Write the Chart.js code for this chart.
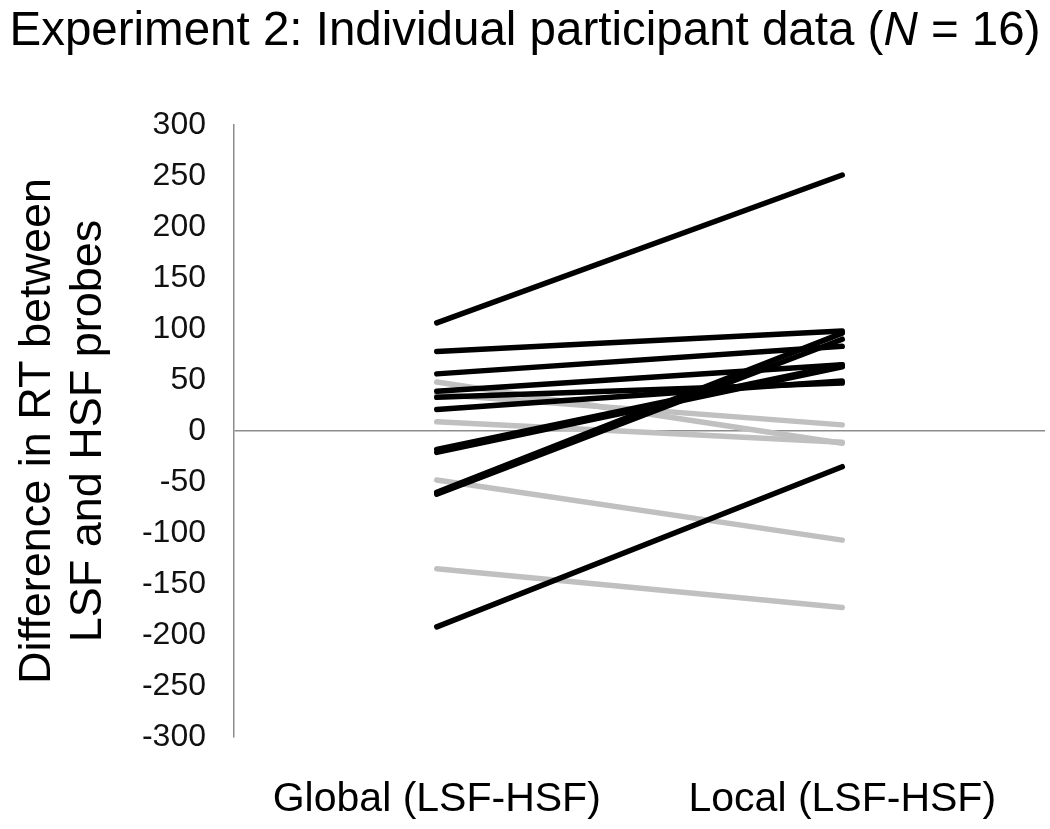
<!DOCTYPE html>
<html>
<head>
<meta charset="utf-8">
<script src="https://cdn.jsdelivr.net/npm/chart.js@4.4.1/dist/chart.umd.min.js"></script>
<style>
  html, body { margin: 0; padding: 0; background: #fff; }
  #wrap { position: relative; width: 1050px; height: 829px; }
  #title {
    position: absolute; top: 5px; left: 0; width: 1050px; margin: 0;
    text-align: center; font-family: "Liberation Sans", Arial, sans-serif;
    font-size: 47.5px; font-weight: normal; line-height: 47px; color: #000;
    white-space: nowrap; z-index: 2;
  }
  #chart { position: absolute; top: 0; left: 0; }
</style>
</head>
<body>
<div id="wrap">
  <h1 id="title">Experiment 2: Individual participant data (<i>N</i> = 16)</h1>
  <canvas id="chart" width="1050" height="829"></canvas>
</div>
<script>
// conditions on the x axis
const categories = ['Global (LSF-HSF)', 'Local (LSF-HSF)'];

// RT difference (LSF - HSF) per participant
const globalDiff = [106, 78, 56, 39, 33, 21, -18, -21, -60, -62, -192, 48, 36, 9, -48, -135];
const localDiff  = [251, 98, 83, 65, 47, 49, 65, 63, 96, 90, -35, -12, 6, -11, -107, -173];

const yTicks = { min: -300, max: 300, step: 50 };
const yTitleLines = ['Difference in RT between', 'LSF and HSF probes'];

const FONT = '"Liberation Sans", Arial, sans-serif';

// participants whose difference goes up are black, down are grey
const datasets = globalDiff.map(function(g, i) {
    const up = localDiff[i] > g;
    return {
        label: 'P' + (i + 1),
        data: [g, localDiff[i]],
        borderColor: up ? '#000000' : '#c0c0c0',
        borderWidth: 5.5,
        borderCapStyle: 'round',
        pointRadius: 0,
        tension: 0,
        order: up ? 0 : 1
    };
});

const ctx = document.getElementById('chart').getContext('2d');
new Chart(ctx, {
    type: 'line',
    data: { labels: categories, datasets: datasets },
    options: {
        responsive: false,
        animation: false,
        layout: { padding: { top: 125, right: 5, bottom: 0, left: 0 } },
        plugins: {
            legend: { display: false },
            tooltip: { enabled: false }
        },
        scales: {
            x: {
                offset: true,
                grid: { display: false, drawTicks: false },
                border: { display: false },
                ticks: {
                    color: '#000',
                    padding: 38,
                    maxRotation: 0,
                    font: { family: FONT, size: 41 }
                },
                afterFit(scale) { scale.height = 92; }
            },
            y: {
                min: yTicks.min,
                max: yTicks.max,
                grid: {
                    drawTicks: false,
                    lineWidth: 1.5,
                    color: function(c) { return c.tick && c.tick.value === 0 ? '#8c8c8c' : 'rgba(0,0,0,0)'; }
                },
                border: { display: true, color: '#8c8c8c', width: 1.5 },
                ticks: {
                    stepSize: yTicks.step,
                    color: '#111',
                    padding: 28,
                    font: { family: FONT, size: 32 }
                },
                title: {
                    display: true,
                    text: yTitleLines,
                    color: '#000',
                    padding: { top: 12 },
                    font: { family: FONT, size: 45, lineHeight: 1.13 }
                },
                afterFit(scale) { scale.width = 234; }
            }
        }
    }
});
</script>
</body>
</html>
